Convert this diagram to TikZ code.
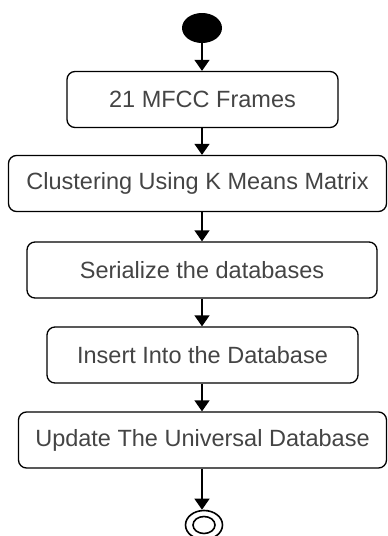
\documentclass[tikz,border=0pt]{standalone}
\usepackage{fontspec}
\setmainfont{Liberation Sans}
\usetikzlibrary{shapes.geometric,arrows.meta}
\definecolor{txt}{HTML}{444444}
\tikzset{
  x=1pt, y=-1pt,
  activity/.style={draw=black, line width=1.3pt, rounded corners=8pt,
    minimum height=56pt, inner sep=0pt, text=txt,
    font=\fontsize{23.5pt}{26pt}\selectfont},
  flow/.style={draw=black, line width=1.4pt,
    -{Triangle[width=15pt,length=11pt]}},
}
\begin{document}
\begin{tikzpicture}
\useasboundingbox (0,0) rectangle (388,536);
% initial node
\node[ellipse, fill=black, minimum width=40pt, minimum height=30pt, inner sep=0pt] (start) at (202,28) {};
% activities
\node[activity, minimum width=271pt] (n1) at (202.5,99.5) {21 MFCC Frames};
\node[activity, minimum width=378pt] (n2) at (197.5,183.5) {Clustering Using K Means Matrix};
\node[activity, minimum width=350pt] (n3) at (202,270) {Serialize the databases};
\node[activity, minimum width=311pt] (n4) at (202.5,355) {Insert Into the Database};
\node[activity, minimum width=368pt] (n5) at (202.5,440) {Update The Universal Database};
% final node
\node[ellipse, draw=black, line width=1.6pt, minimum width=37pt, minimum height=29pt, inner sep=0pt] (stop) at (204,525) {};
\draw[line width=1.6pt] (stop.center) ellipse [x radius=11pt, y radius=8.5pt];
% control flow
\draw[flow] (start.south) -- (start.south |- n1.north);
\draw[flow] (n1.south -| start.south) -- (n2.north -| start.south);
\draw[flow] (n2.south -| start.south) -- (n3.north -| start.south);
\draw[flow] (n3.south -| start.south) -- (n4.north -| start.south);
\draw[flow] (n4.south -| start.south) -- (n5.north -| start.south);
\draw[flow] (n5.south -| start.south) -- (stop.north -| start.south);
\end{tikzpicture}
\end{document}
